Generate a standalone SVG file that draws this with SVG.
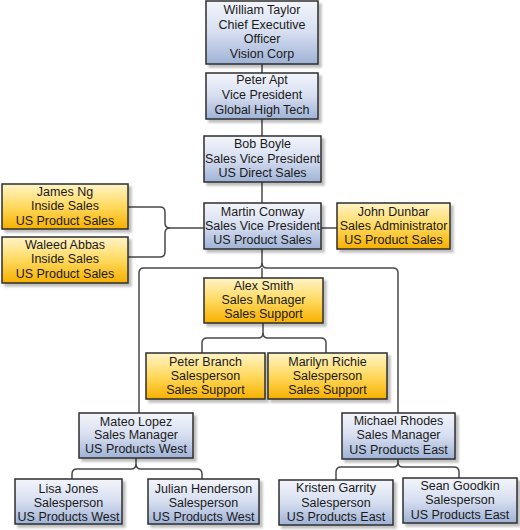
<svg xmlns="http://www.w3.org/2000/svg" width="520" height="530" viewBox="0 0 520 530">
<defs>
<linearGradient id="gb" x1="0" y1="0" x2="0" y2="1">
<stop offset="0" stop-color="#f3f5fb"/>
<stop offset="0.5" stop-color="#d6def0"/>
<stop offset="1" stop-color="#9fb2d6"/>
</linearGradient>
<linearGradient id="gy" x1="0" y1="0" x2="0" y2="1">
<stop offset="0" stop-color="#fff4c8"/>
<stop offset="0.5" stop-color="#ffd95e"/>
<stop offset="1" stop-color="#f7b000"/>
</linearGradient>
<filter id="sh" x="-10%" y="-10%" width="130%" height="140%">
<feDropShadow dx="3" dy="3" stdDeviation="0.8" flood-color="#000" flood-opacity="0.25"/>
</filter>
</defs>
<style>
.b{fill:url(#gb);stroke:#2e2e2e;stroke-width:1.5;filter:url(#sh)}
.y{fill:url(#gy);stroke:#2e2e2e;stroke-width:1.5;filter:url(#sh)}
text{font-family:"Liberation Sans",Arial,sans-serif;font-size:12.5px;fill:#1a1a1a;text-anchor:middle}
.c{fill:none;stroke:#4a4a4a;stroke-width:1.5}
</style>
<g id="connectors" class="c">
<path class="c" d="M262 64V73"/>
<path class="c" d="M262 119V136"/>
<path class="c" d="M262 182V203"/>
<path class="c" d="M321 228H337"/>
<path class="c" d="M128 207H160Q165 207 165 212V223Q165 228 170 228H204"/>
<path class="c" d="M128 257H160Q165 257 165 252V233Q165 228 170 228"/>
<path class="c" d="M262 249V263Q262 268 257 268H144Q139 268 139 273V413"/>
<path class="c" d="M262 263Q262 268 267 268H393Q398 268 398 273V413"/>
<path class="c" d="M262 268V278"/>
<path class="c" d="M263 323V333Q263 338 258 338H207Q202 338 202 343V353"/>
<path class="c" d="M263 333Q263 338 268 338H321Q326 338 326 343V353"/>
<path class="c" d="M136 458V464Q136 469 131 469H77Q72 469 72 474V479"/>
<path class="c" d="M136 464Q136 469 141 469H197Q202 469 202 474V479"/>
<path class="c" d="M398 459V462Q398 467 393 467H341Q336 467 336 472V480"/>
<path class="c" d="M398 462Q398 467 403 467H454Q459 467 459 472V478"/>
</g>
<g id="william-taylor"><rect class="b" x="206" y="1" width="112" height="63"/>
<text x="262" y="14">William Taylor</text><text x="262" y="28.5">Chief Executive</text><text x="262" y="43">Officer</text><text x="262" y="57.5">Vision Corp</text></g>
<g id="peter-apt"><rect class="b" x="206" y="73" width="112" height="46"/>
<text x="262" y="84">Peter Apt</text><text x="262" y="99">Vice President</text><text x="262" y="114">Global High Tech</text></g>
<g id="bob-boyle"><rect class="b" x="204" y="136" width="117" height="46"/>
<text x="262.5" y="148">Bob Boyle</text><text x="262.5" y="163">Sales Vice President</text><text x="262.5" y="177">US Direct Sales</text></g>
<g id="martin-conway"><rect class="b" x="204" y="203" width="117" height="46"/>
<text x="262.5" y="216">Martin Conway</text><text x="262.5" y="230">Sales Vice President</text><text x="262.5" y="244">US Product Sales</text></g>
<g id="john-dunbar"><rect class="y" x="337" y="203" width="113" height="46"/>
<text x="393.5" y="216">John Dunbar</text><text x="393.5" y="230">Sales Administrator</text><text x="393.5" y="244">US Product Sales</text></g>
<g id="james-ng"><rect class="y" x="2" y="184" width="126" height="45"/>
<text x="65" y="196">James Ng</text><text x="65" y="210">Inside Sales</text><text x="65" y="225">US Product Sales</text></g>
<g id="waleed-abbas"><rect class="y" x="2" y="237" width="126" height="46"/>
<text x="65" y="249">Waleed Abbas</text><text x="65" y="263">Inside Sales</text><text x="65" y="278">US Product Sales</text></g>
<g id="alex-smith"><rect class="y" x="204" y="278" width="119" height="45"/>
<text x="263.5" y="290">Alex Smith</text><text x="263.5" y="304">Sales Manager</text><text x="263.5" y="318">Sales Support</text></g>
<g id="peter-branch"><rect class="y" x="146" y="353" width="119" height="46"/>
<text x="205.5" y="366">Peter Branch</text><text x="205.5" y="380">Salesperson</text><text x="205.5" y="394">Sales Support</text></g>
<g id="marilyn-richie"><rect class="y" x="268" y="353" width="119" height="46"/>
<text x="327.5" y="366">Marilyn Richie</text><text x="327.5" y="380">Salesperson</text><text x="327.5" y="394">Sales Support</text></g>
<g id="mateo-lopez"><rect class="b" x="79" y="413" width="114" height="45"/>
<text x="136" y="426">Mateo Lopez</text><text x="136" y="439">Sales Manager</text><text x="136" y="453">US Products West</text></g>
<g id="michael-rhodes"><rect class="b" x="342" y="413" width="113" height="46"/>
<text x="398.5" y="425">Michael Rhodes</text><text x="398.5" y="439">Sales Manager</text><text x="398.5" y="454">US Products East</text></g>
<g id="lisa-jones"><rect class="b" x="15" y="479" width="107" height="45"/>
<text x="68.5" y="493">Lisa Jones</text><text x="68.5" y="507">Salesperson</text><text x="68.5" y="521">US Products West</text></g>
<g id="julian-henderson"><rect class="b" x="148" y="479" width="111" height="45"/>
<text x="203.5" y="493">Julian Henderson</text><text x="203.5" y="507">Salesperson</text><text x="203.5" y="521">US Products West</text></g>
<g id="kristen-garrity"><rect class="b" x="279" y="480" width="114" height="45"/>
<text x="336" y="492">Kristen Garrity</text><text x="336" y="507">Salesperson</text><text x="336" y="521">US Products East</text></g>
<g id="sean-goodkin"><rect class="b" x="403" y="478" width="114" height="45"/>
<text x="460" y="490">Sean Goodkin</text><text x="460" y="504">Salesperson</text><text x="460" y="519">US Products East</text></g>
</svg>
